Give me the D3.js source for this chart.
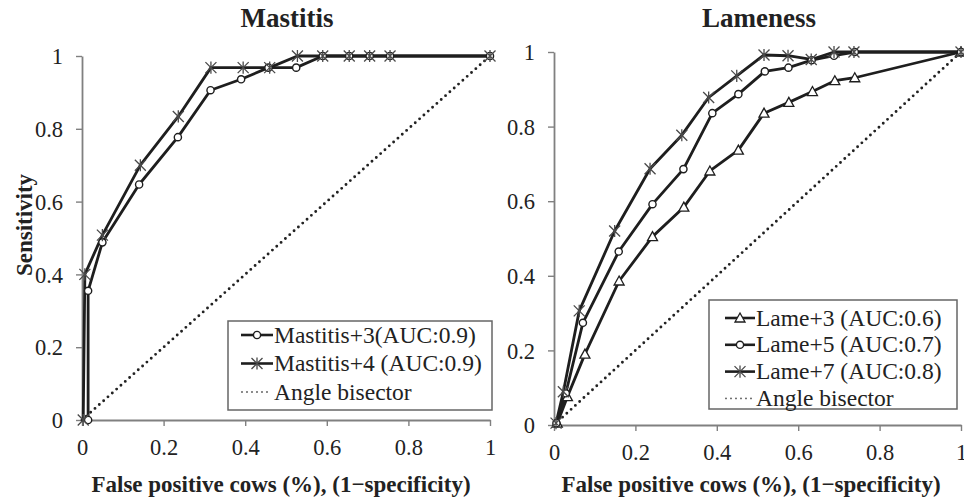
<!DOCTYPE html>
<html>
<head>
<meta charset="utf-8">
<script src="https://cdn.jsdelivr.net/npm/d3@7"></script>
<style>
	body { margin: 0; background: #fff; }
	svg { display: block; font-family: "Liberation Serif", "Times New Roman", serif; }
</style>
</head>
<body>
<div id="chart"></div>
<script>
// ROC curves, values
var tickValues = [0, 0.2, 0.4, 0.6, 0.8, 1]
var tickLabels = ['0', '0.2', '0.4', '0.6', '0.8', '1']

var mastitis3X = [0.015, 0.015, 0.05, 0.14, 0.235, 0.315, 0.39, 0.457, 0.525, 0.59, 0.655, 0.705, 0.755, 1]
var mastitis3Y = [0, 0.355, 0.488, 0.647, 0.777, 0.906, 0.936, 0.968, 0.968, 1, 1, 1, 1, 1]
var mastitis4X = [0.003, 0.007, 0.05, 0.143, 0.236, 0.316, 0.395, 0.46, 0.528, 0.59, 0.655, 0.705, 0.755, 1]
var mastitis4Y = [0, 0.40, 0.508, 0.70, 0.834, 0.968, 0.968, 0.968, 1, 1, 1, 1, 1, 1]

var lame3X = [0.008, 0.033, 0.076, 0.16, 0.242, 0.319, 0.383, 0.453, 0.516, 0.577, 0.635, 0.69, 0.739, 1]
var lame3Y = [0.005, 0.076, 0.19, 0.386, 0.505, 0.584, 0.681, 0.737, 0.836, 0.865, 0.894, 0.923, 0.931, 1]
var lame5X = [0.006, 0.029, 0.071, 0.159, 0.242, 0.318, 0.389, 0.453, 0.518, 0.576, 0.633, 0.688, 0.739, 1]
var lame5Y = [0.005, 0.085, 0.274, 0.465, 0.592, 0.686, 0.836, 0.887, 0.948, 0.958, 0.978, 0.99, 1, 1]
var lame7X = [0.005, 0.023, 0.062, 0.149, 0.236, 0.314, 0.38, 0.449, 0.516, 0.575, 0.632, 0.688, 0.737, 1]
var lame7Y = [0.005, 0.089, 0.306, 0.52, 0.687, 0.777, 0.878, 0.936, 0.992, 0.99, 0.98, 1, 1, 1]

var bisector = [[0, 0], [1, 1]]

var mastitisSeries = [
	{ name: 'Mastitis+3(AUC:0.9)', marker: 'circle', x: mastitis3X, y: mastitis3Y },
	{ name: 'Mastitis+4 (AUC:0.9)', marker: 'star', x: mastitis4X, y: mastitis4Y }
]
var lameSeries = [
	{ name: 'Lame+3 (AUC:0.6)', marker: 'triangle', x: lame3X, y: lame3Y },
	{ name: 'Lame+5 (AUC:0.7)', marker: 'circle', x: lame5X, y: lame5Y },
	{ name: 'Lame+7 (AUC:0.8)', marker: 'star', x: lame7X, y: lame7Y }
]

var W = 964, H = 500
var lineColor = '#1e1e1e', axisColor = '#808080'

var svg = d3.select('#chart').append('svg')
	.attr('width', W)
	.attr('height', H)

// dibuja un marcador en (cx, cy)
function drawMarker(g, type, cx, cy) {
	if (type == 'circle') {
		g.append('circle').attr('cx', cx).attr('cy', cy).attr('r', 3.6)
			.style('fill', '#fff').style('stroke', lineColor).style('stroke-width', 1.4)
	} else if (type == 'triangle') {
		var s = 5
		g.append('path')
			.attr('d', 'M' + cx + ',' + (cy - s) + 'L' + (cx + s) + ',' + (cy + s * 0.8) + 'L' + (cx - s) + ',' + (cy + s * 0.8) + 'Z')
			.style('fill', '#fff').style('stroke', lineColor).style('stroke-width', 1.3)
	} else {
		var r = 5.5
		g.append('path')
			.attr('d', 'M' + (cx - r) + ',' + (cy - r) + 'L' + (cx + r) + ',' + (cy + r) +
				'M' + (cx - r) + ',' + (cy + r) + 'L' + (cx + r) + ',' + (cy - r) +
				'M' + cx + ',' + (cy - r * 1.1) + 'L' + cx + ',' + (cy + r * 1.1))
			.style('fill', 'none').style('stroke', '#4a4a4a').style('stroke-width', 1.3)
	}
}

function drawPanel(cfg) {
	var g = svg.append('g')
	var x = d3.scaleLinear().domain([0, 1]).range([cfg.x0, cfg.x1])
	var y = d3.scaleLinear().domain([0, 1]).range([cfg.y0, cfg.y1])

	// ejes
	var xAxis = g.append('g')
		.attr('transform', 'translate(0,' + cfg.y0 + ')')
		.call(d3.axisBottom(x).tickValues(tickValues).tickFormat(function (d, i) { return tickLabels[i] })
			.tickSizeInner(6).tickSizeOuter(0).tickPadding(13))
	var yAxis = g.append('g')
		.attr('transform', 'translate(' + cfg.x0 + ',0)')
		.call(d3.axisLeft(y).tickValues(tickValues).tickFormat(function (d, i) { return tickLabels[i] })
			.tickSizeInner(6).tickSizeOuter(0).tickPadding(13))
	;[xAxis, yAxis].forEach(function (a) {
		a.select('.domain').style('stroke', axisColor).style('stroke-width', 1.8)
		a.selectAll('.tick line').style('stroke', axisColor).style('stroke-width', 1.4)
		a.selectAll('.tick text').style('font-family', '"Liberation Serif", serif')
			.style('font-size', '22.5px').style('fill', '#222')
	})
	yAxis.selectAll('.tick text').attr('dy', '0.34em')

	// bisectriz punteada
	var line = d3.line().x(function (d) { return x(d[0]) }).y(function (d) { return y(d[1]) })
	g.append('path').datum(bisector)
		.attr('d', line)
		.style('fill', 'none').style('stroke', '#222').style('stroke-width', 2.9)
		.style('stroke-linecap', 'round').style('stroke-dasharray', '0,5.8')

	// curvas ROC
	cfg.series.forEach(function (s) {
		var pts = s.x.map(function (v, i) { return [v, s.y[i]] })
		g.append('path').datum(pts)
			.attr('d', line)
			.style('fill', 'none').style('stroke', lineColor).style('stroke-width', 2.8)
			.style('stroke-linejoin', 'round')
	})
	cfg.series.forEach(function (s) {
		var mg = g.append('g')
		s.x.forEach(function (v, i) { drawMarker(mg, s.marker, x(v), y(s.y[i])) })
	})

	// titulo
	g.append('text').attr('x', cfg.titleX).attr('y', 27)
		.attr('text-anchor', 'middle')
		.style('font-size', '27px').style('font-weight', 'bold').style('fill', '#222')
		.text(cfg.title)

	g.append('text').attr('x', cfg.labelX).attr('y', 492)
		.attr('text-anchor', 'middle')
		.style('font-size', '23px').style('font-weight', 'bold').style('fill', '#222')
		.text('False positive cows (%), (1\u2212specificity)')

	// leyenda
	var lg = g.append('g')
	var L = cfg.legend
	lg.append('rect').attr('x', L.x).attr('y', L.y).attr('width', L.w).attr('height', L.h)
		.style('fill', '#fff').style('stroke', '#666').style('stroke-width', 1.5)
	var items = cfg.series.map(function (s) { return s }).concat([{ name: 'Angle bisector', marker: 'dot' }])
	items.forEach(function (s, i) {
		var cy = L.rowY + i * L.step
		if (s.marker == 'dot') {
			lg.append('line').attr('x1', L.sx0 + 1).attr('x2', L.sx1 - 3).attr('y1', cy).attr('y2', cy)
				.style('stroke', '#555').style('stroke-width', 1.8)
				.style('stroke-linecap', 'round').style('stroke-dasharray', '0,5')
		} else {
			lg.append('line').attr('x1', L.sx0).attr('x2', L.sx1).attr('y1', cy).attr('y2', cy)
				.style('stroke', lineColor).style('stroke-width', 2.6)
			drawMarker(lg, s.marker, (L.sx0 + L.sx1) / 2, cy)
		}
		lg.append('text').attr('x', L.sx1 + 1).attr('y', cy + 7.5)
			.style('font-size', '23.5px').style('fill', '#222')
			.text(s.name)
	})
}

drawPanel({
	title: 'Mastitis', titleX: 287, labelX: 281,
	x0: 82, x1: 490, y0: 420, y1: 56,
	series: mastitisSeries,
	legend: { x: 228, y: 321, w: 264, h: 89, rowY: 335, step: 28.5, sx0: 241, sx1: 273 }
})
drawPanel({
	title: 'Lameness', titleX: 759, labelX: 751,
	x0: 554, x1: 961, y0: 425, y1: 52,
	series: lameSeries,
	legend: { x: 709, y: 300, w: 248, h: 109, rowY: 318, step: 26.8, sx0: 725, sx1: 755 }
})

// etiqueta eje y
svg.append('text')
	.attr('transform', 'translate(32,225) rotate(-90)')
	.attr('text-anchor', 'middle')
	.style('font-size', '23px').style('font-weight', 'bold').style('fill', '#222')
	.text('Sensitivity')
</script>
</body>
</html>
